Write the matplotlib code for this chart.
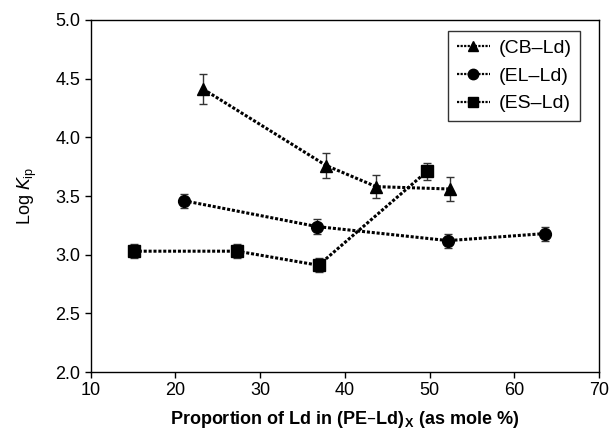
import matplotlib
matplotlib.use("Agg")
import matplotlib.pyplot as plt

plt.rcParams['font.family'] = ['Liberation Sans', 'DejaVu Sans']

cb_x = [23.3, 37.8, 43.7, 52.4]
cb_y = [4.41, 3.76, 3.58, 3.56]
cb_err = [0.13, 0.11, 0.10, 0.10]

el_x = [21.0, 36.7, 52.2, 63.6]
el_y = [3.46, 3.24, 3.12, 3.18]
el_err = [0.06, 0.06, 0.06, 0.06]

es_x = [15.1, 27.3, 36.9, 49.7]
es_y = [3.03, 3.03, 2.91, 3.71]
es_err = [0.06, 0.06, 0.06, 0.07]

labels = ['(CB\u2013Ld)', '(EL\u2013Ld)', '(ES\u2013Ld)']
x_ticks = [10, 20, 30, 40, 50, 60, 70]
y_ticks = [2.0, 2.5, 3.0, 3.5, 4.0, 4.5, 5.0]

fig = plt.figure(figsize=(6.13, 4.44), dpi=100)
ax = fig.add_axes([0.148, 0.162, 0.829, 0.793])

series = [(cb_x, cb_y, cb_err, '^', 9), (el_x, el_y, el_err, 'o', 8.5), (es_x, es_y, es_err, 's', 8)]
for (xs, ys, es, m, ms), lab in zip(series, labels):
    ax.errorbar(xs, ys, yerr=es, fmt='none', ecolor='#333333', elinewidth=1.0,
                capsize=3, capthick=1.0, zorder=2)
    ax.plot(xs, ys, linestyle=(0, (1, 0.6)), linewidth=2.2, color='black',
            marker=m, markersize=ms, markerfacecolor='black', markeredgecolor='black',
            label=lab, zorder=3)

ax.set_xlim(10, 70)
ax.set_ylim(2.0, 5.0)
ax.set_xticks(x_ticks)
ax.set_yticks(y_ticks)
ax.set_yticklabels([f"{v:.1f}" for v in y_ticks])
ax.tick_params(direction='out', length=4, width=1, labelsize=13, top=False, right=False)
for s in ax.spines.values():
    s.set_linewidth(1.0)

ax.set_xlabel('Proportion of Ld in (PE\u2013Ld)$_\\mathregular{X}$ (as mole %)',
              fontsize=13, fontweight='bold', labelpad=7)
ax.set_ylabel('Log $\\mathit{K}_\\mathregular{ip}$', fontsize=13, labelpad=12)

leg = ax.legend(loc='upper right', bbox_to_anchor=(0.963, 0.97), fontsize=14,
                frameon=True, fancybox=False, edgecolor='black', handlelength=1.7,
                handletextpad=0.45, borderpad=0.45, labelspacing=0.52, borderaxespad=0.0)
leg.get_frame().set_linewidth(1.0)
for line in leg.get_lines():
    line.set_markersize(7.5)
    line.set_linewidth(1.6)

fig.savefig('out.png', dpi=100)
